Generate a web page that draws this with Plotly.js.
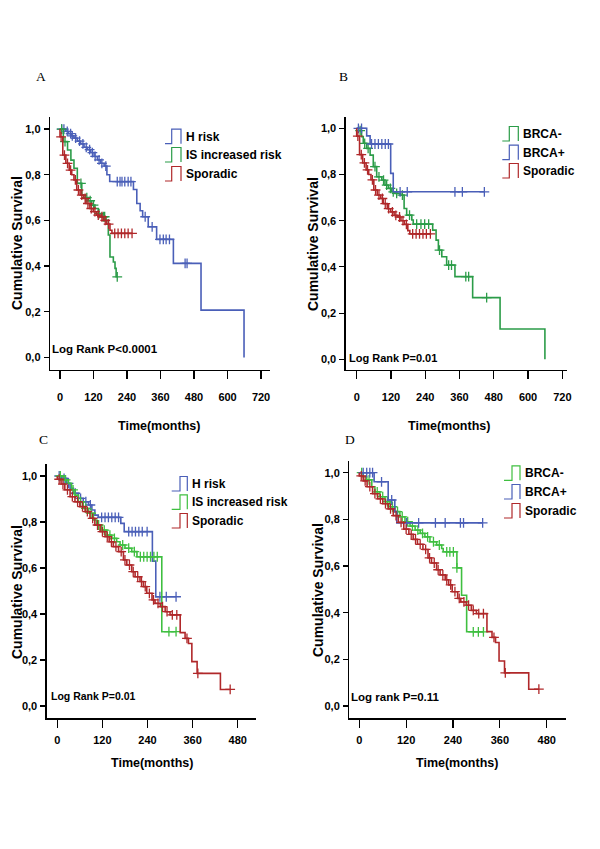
<!DOCTYPE html>
<html>
<head>
<meta charset="utf-8">
<script src="https://cdn.plot.ly/plotly-3.0.1.min.js"></script>
<style>html,body{margin:0;padding:0;background:#fff;}#chart{width:600px;height:849px;}</style>
</head>
<body>
<div id="chart"></div>
<script>
// ---------------- DATA ----------------
const yTickVals = [0, 0.2, 0.4, 0.6, 0.8, 1.0];
const yTickText = ["0,0", "0,2", "0,4", "0,6", "0,8", "1,0"];
const xTicksAB = [0, 120, 240, 360, 480, 600, 720];
const xTicksCD = [0, 120, 240, 360, 480];

// Panel A
const hRiskA_time = [0, 20, 30, 40, 50, 62, 74, 86, 98, 110, 122, 134, 146, 158, 168, 178, 263, 275, 287, 296, 316, 346, 406, 505, 659];
const hRiskA_surv = [1.0, 0.99, 0.98, 0.97, 0.96, 0.947, 0.935, 0.92, 0.91, 0.897, 0.88, 0.865, 0.85, 0.838, 0.80, 0.77, 0.735, 0.674, 0.642, 0.616, 0.572, 0.517, 0.412, 0.207, 0];
const hRiskA_cens = [6, 14, 26, 38, 44, 56, 70, 82, 94, 106, 116, 126, 140, 150, 164, 205, 215, 222, 232, 244, 254, 305, 330, 358, 370, 380, 392, 448, 455];

const isRiskA_time = [0, 12, 27, 39, 50, 62, 78, 90, 101, 113, 125, 137, 149, 165, 173, 179, 191, 197, 201, 205];
const isRiskA_surv = [1.0, 0.945, 0.908, 0.864, 0.828, 0.762, 0.711, 0.70, 0.686, 0.667, 0.652, 0.63, 0.616, 0.60, 0.536, 0.44, 0.418, 0.39, 0.353, 0.353];
const isRiskA_cens = [6, 18, 75, 96, 108, 120, 140, 155, 160, 205];

// Sporadic (same group in A and B)
const sporadicAB_time = [0, 0, 10, 21, 33, 42, 50, 60, 72, 84, 93, 107, 119, 131, 143, 155, 167, 179, 186, 258];
const sporadicAB_surv = [1.0, 0.966, 0.886, 0.85, 0.82, 0.80, 0.777, 0.733, 0.711, 0.696, 0.674, 0.652, 0.638, 0.623, 0.616, 0.60, 0.584, 0.557, 0.543, 0.543];
const sporadicAB_cens = [4, 16, 27, 38, 55, 66, 78, 90, 100, 112, 125, 137, 150, 162, 174, 196, 208, 220, 232, 244, 258];

// Panel B
const brcaNegB_time = [0, 6, 17, 23, 35, 47, 58, 70, 88, 99, 111, 123, 134, 152, 166, 175, 193, 198, 266, 278, 286, 298, 315, 344, 406, 502, 659];
const brcaNegB_surv = [1.0, 0.99, 0.964, 0.935, 0.913, 0.884, 0.834, 0.79, 0.776, 0.754, 0.74, 0.725, 0.718, 0.711, 0.653, 0.624, 0.603, 0.585, 0.559, 0.516, 0.473, 0.444, 0.408, 0.358, 0.267, 0.131, 0];
const brcaNegB_cens = [12, 28, 40, 64, 78, 94, 105, 118, 128, 140, 160, 185, 210, 225, 238, 252, 290, 322, 332, 382, 392, 455];

const brcaPosB_time = [0, 35, 47, 119, 128, 447];
const brcaPosB_surv = [1.0, 0.967, 0.932, 0.805, 0.725, 0.725];
const brcaPosB_cens = [6, 17, 52, 64, 76, 88, 100, 111, 152, 177, 344, 370, 447];

// Panel C
const hRiskC_time = [0, 12, 25, 34, 43, 56, 69, 83, 92, 100, 109, 169, 178, 253, 262, 316];
const hRiskC_surv = [1.0, 0.99, 0.968, 0.946, 0.925, 0.903, 0.888, 0.874, 0.852, 0.83, 0.82, 0.794, 0.758, 0.63, 0.475, 0.475];
const hRiskC_cens = [5, 18, 30, 48, 62, 76, 88, 118, 127, 136, 145, 154, 163, 190, 199, 208, 217, 226, 239, 273, 290, 316];

const isRiskC_time = [0, 16, 29, 38, 47, 56, 69, 83, 96, 105, 118, 132, 145, 158, 167, 180, 198, 212, 278, 316];
const isRiskC_surv = [1.0, 0.983, 0.968, 0.94, 0.917, 0.888, 0.859, 0.838, 0.809, 0.787, 0.765, 0.743, 0.729, 0.714, 0.70, 0.686, 0.671, 0.649, 0.323, 0.323];
const isRiskC_cens = [8, 22, 42, 62, 76, 90, 110, 125, 140, 152, 174, 190, 205, 221, 230, 239, 248, 257, 266, 297, 316];

// Sporadic (same group in C and D)
const sporadicCD_time = [0, 0, 10, 20, 34, 47, 60, 74, 87, 100, 114, 127, 138, 149, 163, 176, 185, 198, 207, 220, 229, 238, 252, 260, 274, 287, 300, 327, 340, 349, 358, 372, 434, 460];
const sporadicCD_surv = [1.0, 0.986, 0.965, 0.94, 0.91, 0.888, 0.867, 0.845, 0.816, 0.787, 0.758, 0.736, 0.714, 0.693, 0.671, 0.635, 0.613, 0.584, 0.562, 0.541, 0.519, 0.49, 0.461, 0.446, 0.432, 0.41, 0.396, 0.319, 0.294, 0.272, 0.193, 0.142, 0.072, 0.072];
const sporadicCD_cens = [5, 15, 27, 40, 54, 67, 80, 94, 107, 120, 133, 144, 156, 170, 180, 192, 202, 214, 224, 234, 245, 256, 268, 280, 292, 306, 318, 345, 374, 460];

// Panel D
const brcaNegD_time = [0, 10, 19, 32, 40, 53, 66, 79, 91, 104, 117, 130, 143, 156, 168, 181, 198, 211, 215, 250, 262, 275, 318];
const brcaNegD_surv = [1.0, 0.983, 0.969, 0.94, 0.918, 0.897, 0.876, 0.854, 0.833, 0.811, 0.79, 0.771, 0.754, 0.74, 0.725, 0.704, 0.69, 0.675, 0.661, 0.592, 0.475, 0.318, 0.318];
const brcaNegD_cens = [6, 25, 46, 60, 72, 85, 98, 110, 124, 136, 150, 162, 175, 190, 205, 224, 232, 241, 250, 292, 305, 318];

const brcaPosD_time = [0, 38, 74, 91, 96, 316];
const brcaPosD_surv = [1.0, 0.961, 0.883, 0.833, 0.785, 0.785];
const brcaPosD_cens = [10, 19, 27, 34, 57, 83, 121, 152, 195, 220, 259, 267, 316];

const panelLetters = ["A", "B", "C", "D"];
const logRankTexts = ["Log Rank P<0.0001", "Log Rank P=0.01", "Log Rank P=0.01", "Log rank P=0.11"];
const legendAC = ["H risk", "IS increased risk", "Sporadic"];
const legendBD = ["BRCA-", "BRCA+", "Sporadic"];
const xTitle = "Time(months)";
const yTitle = "Cumulative Survival";

// ---------------- STYLE / LAYOUT ----------------
const W = 600, H = 849;
const X = p => p / W;
const Y = p => 1 - p / H;
const BLUE = '#4a5fb8', RED = '#b0282a', GREEN_AB = '#2b9c48', GREEN_CD = '#3fbf40';
const SANS = "'Liberation Sans',Arial,sans-serif";
const SERIF = "'Liberation Serif','Times New Roman',serif";

const panels = [
  {xa:'x',  ya:'y',  left:50,    right:270,   top:116.7, bottom:370,   xr:[-35.8, 752],   yr:[-0.055, 1.054],   xt:xTicksAB, xso:8,
   letter:[41,77], ytitle:[17,243], xtitle:[158.5,426], logrank:[105,349], lrSize:11.5,
   leg:{tail:165, lv:171.7, rv:181, tx:184.3, rows:[136.7,155,174]}, legNames:legendAC},
  {xa:'x2', ya:'y2', left:345.7, right:566.7, top:116.7, bottom:370,   xr:[-38.5, 735.3], yr:[-0.0463, 1.0502], xt:xTicksAB, xso:8,
   letter:[343,77], ytitle:[313,244], xtitle:[449,426], logrank:[393,358.3], lrSize:11,
   leg:{tail:502.3, lv:509.3, rv:518.3, tx:520.5, rows:[134,152.7,171]}, legNames:legendBD},
  {xa:'x3', ya:'y3', left:46.7,  right:256,   top:464,   bottom:718.3, xr:[-28.2, 528.7], yr:[-0.0535, 1.0522], xt:xTicksCD, xso:3,
   letter:[43,439], ytitle:[17,592], xtitle:[151.7,763], logrank:[93,696], lrSize:10.5,
   leg:{tail:171.7, lv:180, rv:187.3, tx:190, rows:[484,502.3,521]}, legNames:legendAC},
  {xa:'x4', ya:'y4', left:349.3, right:566,   top:460.7, bottom:718.3, xr:[-25.6, 529.5], yr:[-0.0527, 1.0514], xt:xTicksCD, xso:3,
   letter:[350,439], ytitle:[318,590], xtitle:[456.7,763], logrank:[395,696.7], lrSize:11.5,
   leg:{tail:504, lv:512, rv:520, tx:522.7, rows:[473.3,492,511]}, legNames:legendBD}
];

const series = [
  // panel index, times, survs, censors, color, legend row
  [0, hRiskA_time, hRiskA_surv, hRiskA_cens, BLUE, 0],
  [0, isRiskA_time, isRiskA_surv, isRiskA_cens, GREEN_AB, 1],
  [0, sporadicAB_time, sporadicAB_surv, sporadicAB_cens, RED, 2],
  [1, brcaNegB_time, brcaNegB_surv, brcaNegB_cens, GREEN_AB, 0],
  [1, brcaPosB_time, brcaPosB_surv, brcaPosB_cens, BLUE, 1],
  [1, sporadicAB_time, sporadicAB_surv, sporadicAB_cens, RED, 2],
  [2, hRiskC_time, hRiskC_surv, hRiskC_cens, BLUE, 0],
  [2, isRiskC_time, isRiskC_surv, isRiskC_cens, GREEN_CD, 1],
  [2, sporadicCD_time, sporadicCD_surv, sporadicCD_cens, RED, 2],
  [3, brcaNegD_time, brcaNegD_surv, brcaNegD_cens, GREEN_CD, 0],
  [3, brcaPosD_time, brcaPosD_surv, brcaPosD_cens, BLUE, 1],
  [3, sporadicCD_time, sporadicCD_surv, sporadicCD_cens, RED, 2]
];

function survAt(times, survs, t) {
  let v = survs[0];
  for (let i = 0; i < times.length; i++) { if (times[i] <= t) v = survs[i]; }
  return v;
}

const traces = [];
const shapes = [];
const annotations = [];

series.forEach(([pi, t, s, c, color, row]) => {
  const p = panels[pi];
  traces.push({x: t, y: s, xaxis: p.xa, yaxis: p.ya, type: 'scatter', mode: 'lines',
    line: {shape: 'hv', color: color, width: 1.6}, showlegend: false, hoverinfo: 'skip'});
  traces.push({x: c, y: c.map(v => survAt(t, s, v)), xaxis: p.xa, yaxis: p.ya, type: 'scatter', mode: 'markers',
    marker: {symbol: 'cross-thin', size: 7, line: {color: color, width: 1.3}, color: color},
    showlegend: false, hoverinfo: 'skip'});
  // legend icon (step-shaped, as in the original)
  const L = p.leg, yc = L.rows[row], top = yc - 7.5, bot = yc + 7;
  shapes.push({type: 'path', xref: 'paper', yref: 'paper',
    path: `M ${X(L.tail)} ${Y(bot)} L ${X(L.lv)} ${Y(bot)} L ${X(L.lv)} ${Y(top)} L ${X(L.rv)} ${Y(top)} L ${X(L.rv)} ${Y(bot)}`,
    line: {color: color, width: 1.2}});
  annotations.push({xref: 'paper', yref: 'paper', x: X(L.tx), y: Y(yc), xanchor: 'left', yanchor: 'middle',
    text: p.legNames[row], showarrow: false, font: {family: SANS, size: 12, color: '#000', weight: 'bold'}});
});

const layout = {width: W, height: H, margin: {l: 0, r: 0, t: 0, b: 0}, paper_bgcolor: '#fff', plot_bgcolor: 'rgba(0,0,0,0)',
  showlegend: false, shapes: shapes, annotations: annotations};

panels.forEach((p, i) => {
  const xk = 'xaxis' + (i ? i + 1 : ''), yk = 'yaxis' + (i ? i + 1 : '');
  layout[xk] = {domain: [X(p.left), X(p.right)], range: p.xr, anchor: p.ya, showline: true, linecolor: '#000', linewidth: 1.3,
    ticks: 'outside', ticklen: 8, tickwidth: 1.2, tickcolor: '#000', tickvals: p.xt, ticktext: p.xt.map(String),
    showgrid: false, zeroline: false, ticklabelstandoff: p.xso,
    tickfont: {family: SANS, size: 11, color: '#000', weight: 'bold'}};
  layout[yk] = {domain: [Y(p.bottom), Y(p.top)], range: p.yr, anchor: p.xa, showline: true, linecolor: '#000', linewidth: 1.3,
    ticks: 'outside', ticklen: 5, tickwidth: 1.2, tickcolor: '#000', tickvals: yTickVals, ticktext: yTickText,
    showgrid: false, zeroline: false, ticklabelstandoff: 1,
    tickfont: {family: SANS, size: 11, color: '#000', weight: 'bold'}};
  annotations.push({xref: 'paper', yref: 'paper', x: X(p.letter[0]), y: Y(p.letter[1]), xanchor: 'center', yanchor: 'middle',
    text: panelLetters[i], showarrow: false, font: {family: SERIF, size: 13.5, color: '#000'}});
  annotations.push({xref: 'paper', yref: 'paper', x: X(p.ytitle[0]), y: Y(p.ytitle[1]), xanchor: 'center', yanchor: 'middle',
    text: '<b>' + yTitle + '</b>', textangle: -90, showarrow: false, font: {family: SANS, size: 14, color: '#000'}});
  annotations.push({xref: 'paper', yref: 'paper', x: X(p.xtitle[0]), y: Y(p.xtitle[1]), xanchor: 'center', yanchor: 'middle',
    text: xTitle, showarrow: false, font: {family: SANS, size: 12.5, color: '#000', weight: 'bold'}});
  annotations.push({xref: 'paper', yref: 'paper', x: X(p.logrank[0]), y: Y(p.logrank[1]), xanchor: 'center', yanchor: 'middle',
    text: logRankTexts[i], showarrow: false, font: {family: SANS, size: p.lrSize, color: '#000', weight: 'bold'}});
});

Plotly.newPlot('chart', traces, layout, {staticPlot: true, displayModeBar: false});
</script>
</body>
</html>
